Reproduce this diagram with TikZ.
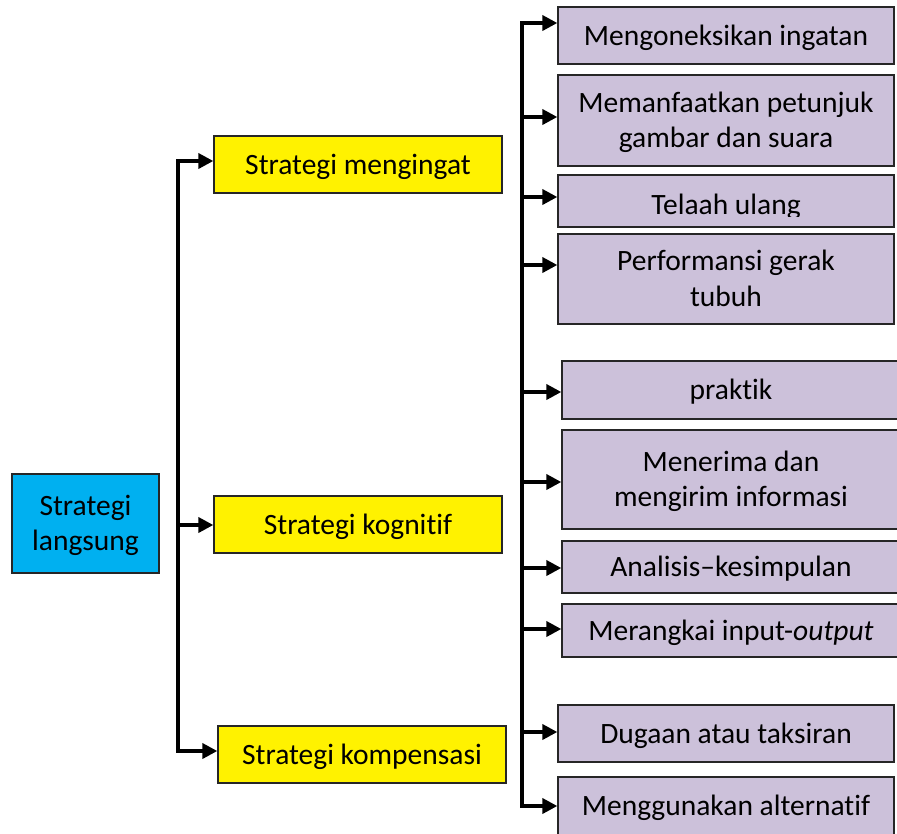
\documentclass[tikz,border=0pt]{standalone}
\usepackage{fontspec}
\setmainfont[Ligatures=NoCommon]{Carlito}
\usetikzlibrary{arrows.meta}
\definecolor{skyblue}{HTML}{00B0F0}
\definecolor{lavender}{HTML}{CCC1DA}
\definecolor{boxline}{HTML}{262626}
\newcommand{\boxfont}{\fontsize{29.5}{35.5}\selectfont}
\tikzset{
  box/.style={draw=boxline, line width=1.3pt, rectangle, inner sep=0pt,
    align=center, font=\boxfont},
  oneline/.style={text height=22pt, text depth=3pt},
  twolines/.style={text height=57.5pt, text depth=3pt},
  rootbox/.style={box, fill=skyblue},
  midbox/.style={box, fill=yellow},
  leafbox/.style={box, fill=lavender},
  link/.style={line width=3.6pt, line join=miter},
  tip/.style={-{Triangle[length=15pt,width=15pt]}},
  bothtips/.style={{Triangle[length=15pt,width=15pt]}-{Triangle[length=15pt,width=15pt]}}
}
\begin{document}
\begin{tikzpicture}[x=1pt, y=-1pt]
\useasboundingbox (0,0) rectangle (897,833);

% root
\node[rootbox, twolines, minimum width=147pt, minimum height=99pt] (root) at (85.5,523.5) {Strategi\\langsung};

% second level
\node[midbox, oneline, minimum width=288pt, minimum height=57pt] (y1) at (358,164.5) {Strategi mengingat};
\node[midbox, oneline, minimum width=288pt, minimum height=57pt] (y2) at (358,524.5) {Strategi kognitif};
\node[midbox, oneline, minimum width=288pt, minimum height=57pt] (y3) at (362,754.5) {Strategi kompensasi};

% third level
\node[leafbox, oneline, minimum width=336pt, minimum height=57pt] (m1) at (726,35.5) {Mengoneksikan ingatan};
\node[leafbox, twolines, minimum width=336pt, minimum height=91pt] (m2) at (726,120.5) {Memanfaatkan petunjuk\\gambar dan suara};
\node[leafbox, minimum width=336pt, minimum height=52pt] (m3) at (726,201) {};
\begin{scope}
  \clip (558,175) rectangle (894,216);
  \node[font=\boxfont, anchor=base, inner sep=0pt] (m3t) at (726,214) {Telaah ulang};
\end{scope}
\node[leafbox, twolines, minimum width=336pt, minimum height=90pt] (m4) at (726,279) {Performansi gerak\\tubuh};
\node[leafbox, oneline, minimum width=338pt, minimum height=58pt] (m5) at (731,390) {praktik};
\node[leafbox, twolines, minimum width=338pt, minimum height=99pt] (m6) at (731,479.5) {Menerima dan\\mengirim informasi};
\node[leafbox, oneline, minimum width=338pt, minimum height=52pt] (m7) at (731,567) {Analisis--kesimpulan};
\node[leafbox, oneline, minimum width=338pt, minimum height=53pt] (m8) at (731,630.5) {Merangkai input-\textit{output}};
\node[leafbox, oneline, minimum width=336pt, minimum height=57pt] (m9) at (726,733.5) {Dugaan atau taksiran};
\node[leafbox, oneline, minimum width=336pt, minimum height=58pt] (m10) at (726,806) {Menggunakan alternatif};

% left bracket
\coordinate (L1) at (178,161);
\coordinate (L2) at (178,525);
\coordinate (L3) at (178,751);
\draw[link, bothtips] (L1 -| y1.west) -- (L1) -- (L3) -- (L3 -| y3.west);
\draw[link, tip] (L2) -- (L2 -| y2.west);

% right bracket
\coordinate (R1) at (522,23);
\coordinate (R2) at (522,117);
\coordinate (R3) at (522,197);
\coordinate (R4) at (522,265);
\coordinate (R5) at (522,392);
\coordinate (R6) at (522,482);
\coordinate (R7) at (522,568);
\coordinate (R8) at (522,629);
\coordinate (R9) at (522,732);
\coordinate (R10) at (522,806);
\draw[link, bothtips] (R1 -| m1.west) -- (R1) -- (R10) -- (R10 -| m10.west);
\draw[link, tip] (R2) -- (R2 -| m2.west);
\draw[link, tip] (R3) -- (R3 -| m3.west);
\draw[link, tip] (R4) -- (R4 -| m4.west);
\draw[link, tip] (R5) -- (R5 -| m5.west);
\draw[link, tip] (R6) -- (R6 -| m6.west);
\draw[link, tip] (R7) -- (R7 -| m7.west);
\draw[link, tip] (R8) -- (R8 -| m8.west);
\draw[link, tip] (R9) -- (R9 -| m9.west);
\end{tikzpicture}
\end{document}
